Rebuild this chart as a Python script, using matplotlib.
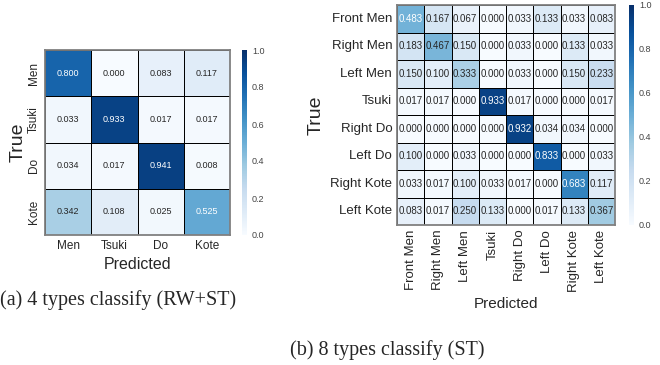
import numpy as np
import seaborn as sns
import matplotlib.pyplot as plt

# 4-class confusion matrix (RW+ST)
labels4 = ["Men", "Tsuki", "Do", "Kote"]
cm4 = np.array([
  [0.800, 0.000, 0.083, 0.117],
  [0.033, 0.933, 0.017, 0.017],
  [0.034, 0.017, 0.941, 0.008],
  [0.342, 0.108, 0.025, 0.525],
])

# 8-class confusion matrix (ST)
labels8 = ["Front Men", "Right Men", "Left Men", "Tsuki",
           "Right Do", "Left Do", "Right Kote", "Left Kote"]
cm8 = np.array([
  [0.483, 0.167, 0.067, 0.000, 0.033, 0.133, 0.033, 0.083],
  [0.183, 0.467, 0.150, 0.000, 0.033, 0.000, 0.133, 0.033],
  [0.150, 0.100, 0.333, 0.000, 0.033, 0.000, 0.150, 0.233],
  [0.017, 0.017, 0.000, 0.933, 0.017, 0.000, 0.000, 0.017],
  [0.000, 0.000, 0.000, 0.000, 0.932, 0.034, 0.034, 0.000],
  [0.100, 0.000, 0.033, 0.000, 0.000, 0.833, 0.000, 0.033],
  [0.033, 0.017, 0.100, 0.033, 0.017, 0.000, 0.683, 0.117],
  [0.083, 0.017, 0.250, 0.133, 0.000, 0.017, 0.133, 0.367],
])

captionA = "(a) 4 types classify (RW+ST)"
captionB = "(b) 8 types classify (ST)"

sns.set_style("white")
plt.rcParams['font.family'] = ['Liberation Sans', 'DejaVu Sans']

W, H = 660, 365
fig = plt.figure(figsize=(W / 100, H / 100), dpi=100)

def box(x0, y0, x1, y1):
  # pixel box (top-left origin) -> figure fraction rect
  return [x0 / W, 1 - y1 / H, (x1 - x0) / W, (y1 - y0) / H]

def drawMatrix(ax, cax, data, labels, annotSize, tickSize, xlabSize, ylabSize, ylabRot):
  sns.heatmap(data, ax=ax, cbar_ax=cax, cmap="Blues", vmin=0, vmax=1,
              annot=True, fmt=".3f", annot_kws={"size": annotSize},
              linewidths=0.7, linecolor="black",
              xticklabels=labels, yticklabels=labels)
  for s in ax.spines.values():
    s.set_visible(True)
    s.set_color("#808080")
    s.set_linewidth(1.3)
  ax.tick_params(length=0, labelsize=tickSize, colors="#262626")
  ax.set_yticklabels(labels, rotation=ylabRot, va="center")
  ax.set_xlabel("Predicted", fontsize=xlabSize, color="#262626")
  ax.set_ylabel("True", fontsize=ylabSize, color="#262626")
  cax.tick_params(length=0, labelsize=6.5, colors="#444444")
  cax.set_yticks([0, 0.2, 0.4, 0.6, 0.8, 1.0])

ax1 = fig.add_axes(box(45, 50, 230, 235))
cax1 = fig.add_axes(box(242, 50, 247, 235))
drawMatrix(ax1, cax1, cm4, labels4, 6.5, 8.5, 11.5, 14, 90)
ax1.set_xticklabels(labels4, rotation=0)
ax1.yaxis.labelpad = 1

ax2 = fig.add_axes(box(397, 5, 615, 225))
cax2 = fig.add_axes(box(629, 5, 634, 225))
drawMatrix(ax2, cax2, cm8, labels8, 7, 9.5, 11, 14, 0)
ax2.set_xticklabels(labels8, rotation=90)
ax2.xaxis.labelpad = 4

fig.text(0.0, 1 - 300 / H, captionA, family="Liberation Serif",
         fontsize=14.5, va="center", ha="left")
fig.text(387 / W, 1 - 350 / H, captionB, family="Liberation Serif",
         fontsize=14.5, va="center", ha="center")

fig.savefig("out.png", dpi=100)
